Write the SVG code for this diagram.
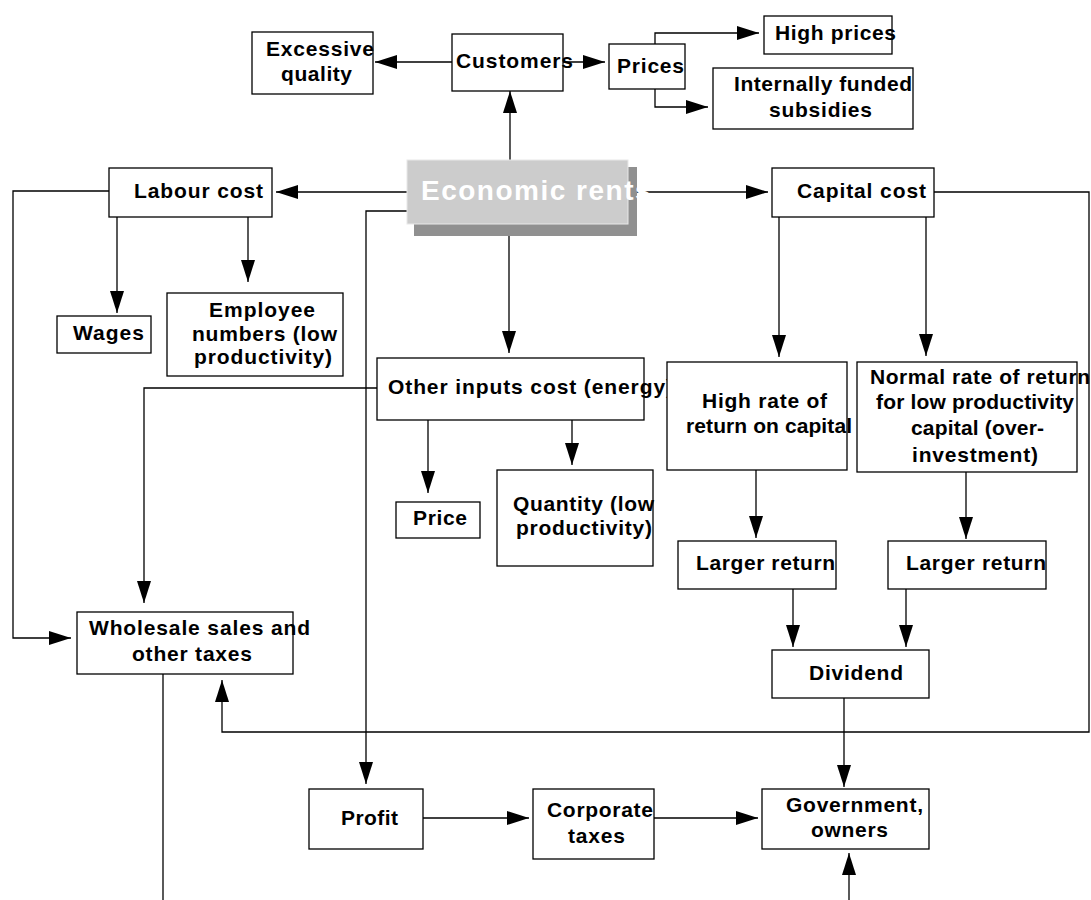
<svg xmlns="http://www.w3.org/2000/svg" width="1091" height="900" viewBox="0 0 1091 900">
<style>
.box{fill:#fff;stroke:#000;stroke-width:1.3}
.t{font-family:"Liberation Sans",Arial,sans-serif;font-weight:bold;font-size:21px;fill:#000}
.c{fill:none;stroke:#000;stroke-width:1.3}
.a{marker-end:url(#ah)}
</style>
<defs>
<marker id="ah" markerUnits="userSpaceOnUse" markerWidth="22" markerHeight="14" refX="22" refY="7" orient="auto">
<path d="M0,0 L22,7 L0,14 Z" fill="#000"/>
</marker>
</defs>
<rect width="1091" height="900" fill="#fff"/>
<g id="connectors">
<path class="c a" d="M510,160 V91"/>
<path class="c a" d="M452,62 H375"/>
<path class="c a" d="M563,62 H605"/>
<path class="c a" d="M655,44 V33 H759"/>
<path class="c a" d="M655,89 V107 H708"/>
<path class="c a" d="M407,192 H276"/>
<path class="c a" d="M628,192 H768"/>
<path class="c a" d="M109,191 H13 V638 H71"/>
<path class="c a" d="M117,217 V313"/>
<path class="c a" d="M248,217 V282"/>
<path class="c a" d="M509,236 V353"/>
<path class="c a" d="M407,211 H366 V784"/>
<path class="c a" d="M428,420 V493"/>
<path class="c a" d="M572,420 V465"/>
<path class="c a" d="M377,388 H144 V603"/>
<path class="c a" d="M779,217 V357"/>
<path class="c a" d="M926,217 V356"/>
<path class="c a" d="M934,192 H1089 V732 H222 V680"/>
<path class="c a" d="M756,470 V538"/>
<path class="c a" d="M966,472 V539"/>
<path class="c a" d="M793,589 V647"/>
<path class="c a" d="M906,589 V647"/>
<path class="c a" d="M844,698 V787"/>
<path class="c" d="M163,674 V900"/>
<path class="c a" d="M423,818 H529"/>
<path class="c a" d="M654,818 H758"/>
<path class="c a" d="M849,900 V853"/>
</g>
<g id="economic-rents">
<rect x="414" y="167" width="223" height="69" fill="#909090"/>
<rect x="407" y="160" width="221" height="64" fill="#cccccc" stroke="#e8e8e8" stroke-width="1"/>
<text x="421" y="200" style="font-family:'Liberation Sans',Arial,sans-serif;font-weight:bold;font-size:28px;fill:#fff;letter-spacing:1.5px">Economic rents</text>
</g>
<g id="excessive-quality">
<rect class="box" x="252" y="32" width="121" height="62"/>
<text class="t" x="266" y="56" textLength="108" lengthAdjust="spacing">Excessive</text>
<text class="t" x="281" y="81" textLength="71" lengthAdjust="spacing">quality</text>
</g>
<g id="customers">
<rect class="box" x="452" y="34" width="111" height="57"/>
<text class="t" x="456" y="68" textLength="117" lengthAdjust="spacing">Customers</text>
</g>
<g id="prices">
<rect class="box" x="609" y="44" width="76" height="45"/>
<text class="t" x="617" y="73" textLength="67" lengthAdjust="spacing">Prices</text>
</g>
<g id="high-prices">
<rect class="box" x="764" y="16" width="128" height="38"/>
<text class="t" x="775" y="40" textLength="121" lengthAdjust="spacing">High prices</text>
</g>
<g id="subsidies">
<rect class="box" x="713" y="68" width="200" height="61"/>
<text class="t" x="734" y="91" textLength="178" lengthAdjust="spacing">Internally funded</text>
<text class="t" x="769" y="117" textLength="103" lengthAdjust="spacing">subsidies</text>
</g>
<g id="labour-cost">
<rect class="box" x="109" y="168" width="163" height="49"/>
<text class="t" x="134" y="198" textLength="129" lengthAdjust="spacing">Labour cost</text>
</g>
<g id="capital-cost">
<rect class="box" x="772" y="168" width="162" height="49"/>
<text class="t" x="797" y="198" textLength="129" lengthAdjust="spacing">Capital cost</text>
</g>
<g id="wages">
<rect class="box" x="57" y="316" width="94" height="37"/>
<text class="t" x="73" y="340" textLength="71" lengthAdjust="spacing">Wages</text>
</g>
<g id="employee-numbers">
<rect class="box" x="167" y="293" width="176" height="83"/>
<text class="t" x="209" y="317" textLength="106" lengthAdjust="spacing">Employee</text>
<text class="t" x="192" y="341" textLength="145" lengthAdjust="spacing">numbers (low</text>
<text class="t" x="194" y="364" textLength="138" lengthAdjust="spacing">productivity)</text>
</g>
<g id="other-inputs">
<rect class="box" x="377" y="358" width="267" height="62"/>
<text class="t" x="388" y="394" textLength="285" lengthAdjust="spacing">Other inputs cost (energy)</text>
</g>
<g id="price">
<rect class="box" x="396" y="502" width="84" height="36"/>
<text class="t" x="413" y="525" textLength="54" lengthAdjust="spacing">Price</text>
</g>
<g id="quantity">
<rect class="box" x="497" y="470" width="156" height="96"/>
<text class="t" x="513" y="511" textLength="141" lengthAdjust="spacing">Quantity (low</text>
<text class="t" x="516" y="535" textLength="136" lengthAdjust="spacing">productivity)</text>
</g>
<g id="high-rate">
<rect class="box" x="667" y="362" width="180" height="108"/>
<text class="t" x="702" y="408" textLength="125" lengthAdjust="spacing">High rate of</text>
<text class="t" x="686" y="433" textLength="166" lengthAdjust="spacing">return on capital</text>
</g>
<g id="normal-rate">
<rect class="box" x="857" y="362" width="220" height="110"/>
<text class="t" x="870" y="384" textLength="220" lengthAdjust="spacing">Normal rate of return</text>
<text class="t" x="876" y="409" textLength="198" lengthAdjust="spacing">for low productivity</text>
<text class="t" x="911" y="435" textLength="133" lengthAdjust="spacing">capital (over-</text>
<text class="t" x="912" y="462" textLength="126" lengthAdjust="spacing">investment)</text>
</g>
<g id="larger-return-1">
<rect class="box" x="678" y="541" width="158" height="48"/>
<text class="t" x="696" y="570" textLength="139" lengthAdjust="spacing">Larger return</text>
</g>
<g id="larger-return-2">
<rect class="box" x="888" y="541" width="158" height="48"/>
<text class="t" x="906" y="570" textLength="140" lengthAdjust="spacing">Larger return</text>
</g>
<g id="dividend">
<rect class="box" x="772" y="650" width="157" height="48"/>
<text class="t" x="809" y="680" textLength="94" lengthAdjust="spacing">Dividend</text>
</g>
<g id="wholesale">
<rect class="box" x="77" y="612" width="216" height="62"/>
<text class="t" x="89" y="635" textLength="221" lengthAdjust="spacing">Wholesale sales and</text>
<text class="t" x="132" y="661" textLength="120" lengthAdjust="spacing">other taxes</text>
</g>
<g id="profit">
<rect class="box" x="309" y="789" width="114" height="60"/>
<text class="t" x="341" y="825" textLength="57" lengthAdjust="spacing">Profit</text>
</g>
<g id="corporate-taxes">
<rect class="box" x="533" y="789" width="121" height="70"/>
<text class="t" x="547" y="817" textLength="106" lengthAdjust="spacing">Corporate</text>
<text class="t" x="568" y="843" textLength="57" lengthAdjust="spacing">taxes</text>
</g>
<g id="government-owners">
<rect class="box" x="762" y="789" width="167" height="60"/>
<text class="t" x="786" y="812" textLength="137" lengthAdjust="spacing">Government,</text>
<text class="t" x="811" y="837" textLength="77" lengthAdjust="spacing">owners</text>
</g>
</svg>
